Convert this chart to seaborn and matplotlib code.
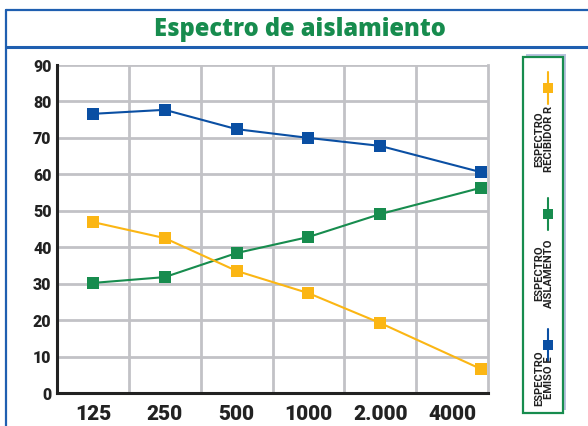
import matplotlib
matplotlib.use("Agg")
import matplotlib.pyplot as plt
from matplotlib.patches import Rectangle
from matplotlib.lines import Line2D
import seaborn as sns
import pandas as pd

# ---- data ----
freq_labels = ["125", "250", "500", "1000", "2.000", "4000"]
freq_pos = [0, 1, 2, 3, 4, 5.4]
emiso = [76.6, 77.7, 72.4, 70.0, 67.8, 60.6]
aislamiento = [30.2, 31.8, 38.4, 42.8, 49.1, 56.3]
recibidor = [46.9, 42.5, 33.5, 27.4, 19.2, 6.6]
series_names = ["ESPECTRO\nEMISO E", "ESPECTRO\nAISLAMENTO", "ESPECTRO\nRECIBIDOR R"]
y_ticks = [0, 10, 20, 30, 40, 50, 60, 70, 80, 90]

BLUE = "#0a4fa3"
GREEN = "#178c4e"
ORANGE = "#fbb614"
colors = [BLUE, GREEN, ORANGE]

sns.set_theme(style="white")
plt.rcParams["font.family"] = ["Roboto", "DejaVu Sans"]

df = pd.DataFrame({
    "x": freq_pos * 3,
    "y": emiso + aislamiento + recibidor,
    "serie": [series_names[0]] * 6 + [series_names[1]] * 6 + [series_names[2]] * 6,
})

W, H = 588, 426
fig = plt.figure(figsize=(W / 100, H / 100), dpi=100)
fig.patch.set_facecolor("white")

def fx(px):
    return px / W

def fy(py):
    return 1 - py / H

# outer frame lines (figure coords)
frame_col = "#1f5fb0"
fig.add_artist(Line2D([fx(6), fx(6)], [fy(10), fy(426)], color=frame_col, lw=1.6))
fig.add_artist(Line2D([fx(6), fx(588)], [fy(10), fy(10)], color=frame_col, lw=1.6))
fig.add_artist(Line2D([fx(6), fx(588)], [fy(47), fy(47)], color=frame_col, lw=2.2))

fig.text(fx(300), fy(29), "Espectro de aislamiento", ha="center", va="center",
         color=GREEN, fontsize=17, fontweight="heavy", family=["Open Sans", "DejaVu Sans"])

# main axes
x0, x1, y0, y1 = 57, 488, 65, 393
ax = fig.add_axes([fx(x0), fy(y1), (x1 - x0) / W, (y1 - y0) / H])
sns.lineplot(data=df, x="x", y="y", hue="serie", palette=colors, marker="s",
             markersize=9, markeredgewidth=0, linewidth=1.5, ax=ax, legend=False,
             sort=False)
ax.set_xlim(-0.5, 5.5)
ax.set_ylim(0, 90)
ax.set_xlabel("")
ax.set_ylabel("")
ax.set_yticks(y_ticks)
ax.set_yticklabels([str(v) for v in y_ticks], fontsize=11.5, fontweight="heavy", color="#222222")
ax.set_xticks(range(len(freq_labels)))
ax.set_xticklabels(freq_labels, fontsize=15, fontweight="heavy", color="#222222")
ax.tick_params(axis="both", length=0)
ax.tick_params(axis="y", pad=4)
ax.tick_params(axis="x", pad=9)
for v in y_ticks[1:]:
    ax.axhline(v, color="#c2c2c6", lw=2, zorder=0)
for v in [0.5, 1.5, 2.5, 3.5, 4.5]:
    ax.axvline(v, color="#c2c2c6", lw=2, zorder=0)
ax.spines["top"].set_visible(False)
ax.spines["right"].set_color("#c2c2c6")
ax.spines["right"].set_linewidth(2)
ax.spines["left"].set_color("#222222")
ax.spines["left"].set_linewidth(2.2)
ax.spines["bottom"].set_color("#222222")
ax.spines["bottom"].set_linewidth(2.2)
ax.set_facecolor("none")

# legend box
lx0, lx1, ly0, ly1 = 523, 563, 57, 413
lax = fig.add_axes([fx(lx0 - 2), fy(ly1 + 2), (lx1 - lx0 + 6) / W, (ly1 - ly0 + 6) / H])
lax.set_xlim(lx0 - 2, lx1 + 4)
lax.set_ylim(ly1 + 2, ly0 - 4)
lax.axis("off")
lax.add_patch(Rectangle((lx0 + 3, ly0 - 3), lx1 - lx0, ly1 - ly0, facecolor="#b9c3df",
                        edgecolor="none", zorder=1))
lax.add_patch(Rectangle((lx0, ly0), lx1 - lx0, ly1 - ly0, facecolor="white",
                        edgecolor=GREEN, lw=1.6, zorder=2))
entries = [(88, 139, series_names[2], ORANGE), (214, 273, series_names[1], GREEN),
           (345, 378, series_names[0], BLUE)]
for my, ty, name, c in entries:
    lax.plot([548, 548], [my - 16, my + 16], color=c, lw=1.5, zorder=3)
    lax.plot([548], [my], marker="s", color=c, markersize=7, markeredgewidth=0, zorder=4)
    lax.text(544, ty, name, rotation=90, ha="center", va="center", fontsize=8,
             fontweight="bold", color="#222222", linespacing=0.95, zorder=4,
             family=["Roboto", "DejaVu Sans"])

fig.savefig("out.png", dpi=100, facecolor="white")
